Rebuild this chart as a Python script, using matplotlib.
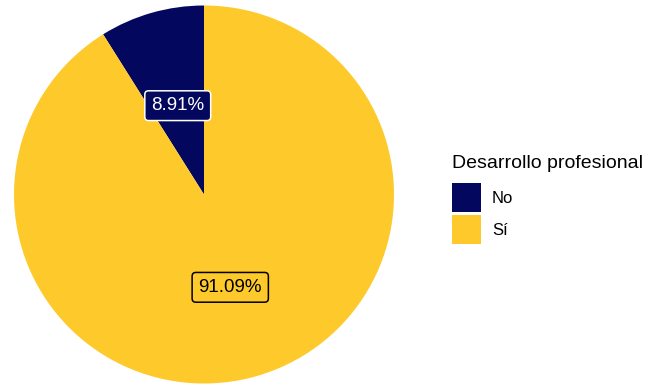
import matplotlib
matplotlib.use("Agg")
import matplotlib.pyplot as plt

plt.rcParams['font.family'] = ['Liberation Sans', 'DejaVu Sans']

categorias = ['No', 'Sí']
porcentajes = [8.91, 91.09]
colores = ['#03085E', '#FEC92B']
titulo_leyenda = 'Desarrollo profesional'

W, H = 645, 385
fig = plt.figure(figsize=(W / 100, H / 100), dpi=100)
fig.patch.set_facecolor('white')

# pie centred at (204, 194.5) px, radius about 190 px
cx, cy, rx, ry = 204, 194.5, 190, 189
ax = fig.add_axes([(cx - rx) / W, (H - cy - ry) / H, 2 * rx / W, 2 * ry / H])
wedges, _, autotexts = ax.pie(porcentajes, colors=colores, startangle=90,
                              counterclock=True, radius=1,
                              autopct='%.2f%%', pctdistance=0.5,
                              wedgeprops=dict(linewidth=0))
ax.set_xlim(-1, 1)
ax.set_ylim(-1, 1)
ax.set_aspect('auto')
ax.axis('off')

# label boxes: white on navy, black on yellow
estilos = [('white', colores[0], 'white'), ('black', colores[1], 'black')]
for t, (fg, bg, borde) in zip(autotexts, estilos):
    t.set_fontsize(13.5)
    t.set_color(fg)
    t.set_va('center_baseline')
    t.set_bbox(dict(boxstyle='round,pad=0.34,rounding_size=0.2',
                    facecolor=bg, edgecolor=borde, linewidth=1.1))

leg = fig.legend(wedges, categorias, title=titulo_leyenda,
                 loc='upper left', bbox_to_anchor=(452 / W, 1 - 155 / H),
                 frameon=False, fontsize=12, title_fontsize=14,
                 handlelength=1.74, handleheight=2.3, labelspacing=0.18,
                 handletextpad=0.66, borderpad=0, borderaxespad=0,
                 alignment='left')
leg._legend_box.sep = 8

fig.savefig('out.png', dpi=100, facecolor='white')
